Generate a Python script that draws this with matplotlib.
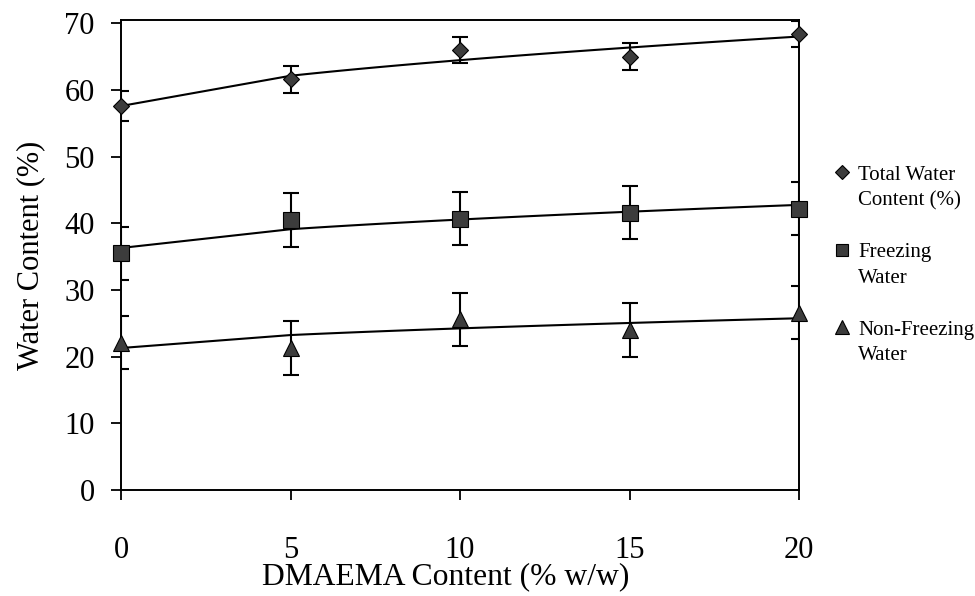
import numpy as np
import matplotlib
matplotlib.use("Agg")
import matplotlib.pyplot as plt
from matplotlib.lines import Line2D

# ---- data ----
dmaema = [0, 5, 10, 15, 20]
total_water = [57.6, 61.6, 66.0, 65.0, 68.4]
total_err = [2.2, 2.0, 2.0, 2.0, 2.0]
freezing_water = [35.5, 40.5, 40.7, 41.6, 42.2]
freezing_err = [4.0, 4.0, 4.0, 4.0, 4.0]
nonfreezing_water = [22.1, 21.3, 25.6, 24.0, 26.6]
nonfreezing_err = [4.0, 4.0, 4.0, 4.0, 4.0]
series_labels = [("Total Water", "Content (%)"), ("Freezing", "Water"), ("Non-Freezing", "Water")]
x_ticks = [0, 5, 10, 15, 20]
y_ticks = [0, 10, 20, 30, 40, 50, 60, 70]

plt.rcParams['font.family'] = ['Liberation Serif', 'DejaVu Serif']

fig = plt.figure(figsize=(9.75, 5.96), dpi=100)
ax = fig.add_axes([121/975, 1-490/596, (799-121)/975, (490-20)/596])

x = np.asarray(dmaema, dtype=float)
# trendline evaluated on a coarse first step (like a spreadsheet trendline), then finely
xs = np.concatenate([[0.0], np.linspace(5, 20, 80)])
POW = 0.6

def power_fit(xv, yv):
    A = np.vstack([np.ones_like(xv), xv**POW]).T
    coef, *_ = np.linalg.lstsq(A, np.asarray(yv, dtype=float), rcond=None)
    return coef[0] + coef[1]*xs**POW

face = '#3c3c3c'
series = [
    (total_water, total_err, 'D', 8.2),
    (freezing_water, freezing_err, 's', 11),
    (nonfreezing_water, nonfreezing_err, '^', 11.5),
]
handles = []
for yv, ev, mk, ms in series:
    ax.plot(xs, power_fit(x, yv), color='black', lw=1.5, zorder=2)
    ax.errorbar(x, yv, yerr=ev, fmt='none', ecolor='black', elinewidth=1.5,
                capsize=6, capthick=1.5, zorder=3)
    ax.plot(x, yv, linestyle='none', marker=mk, ms=ms, mfc=face, mec='black',
            mew=0.8, zorder=4, clip_on=False)
    handles.append(Line2D([], [], linestyle='none', marker=mk, ms=ms*0.85,
                          mfc=face, mec='black', mew=0.8))

ax.set_xlim(0, 20)
ax.set_ylim(0, 70.5)
ax.set_xticks(x_ticks)
ax.set_yticks(y_ticks)
ax.set_xticklabels([str(t) for t in x_ticks])
ax.set_yticklabels([str(t) for t in y_ticks])
ax.tick_params(axis='x', direction='out', length=7, width=1.3, pad=26, labelsize=22)
ax.tick_params(axis='y', direction='out', length=7, width=1.3, pad=12, labelsize=22)
for s in ax.spines.values():
    s.set_linewidth(1.4)

ax.set_xlabel("DMAEMA Content (% w/w)", fontsize=22.8)
ax.xaxis.set_label_coords((446-121)/678, (490-577)/470, transform=ax.transAxes)
ax.xaxis.label.set_va('center')
ax.set_ylabel("Water Content (%)", fontsize=22, labelpad=14)

blank = Line2D([], [], linestyle='none')
leg_handles = []
leg_labels = []
for i, (h, (l1, l2)) in enumerate(zip(handles, series_labels)):
    leg_handles += [h, blank]
    leg_labels += [l1, l2]
    if i < len(handles) - 1:
        leg_handles.append(blank)
        leg_labels.append(" ")

fig.legend(leg_handles, leg_labels, loc='upper left',
           bbox_to_anchor=(832/975, 1-165/596), frameon=False, fontsize=15,
           handlelength=1.0, handletextpad=0.25, labelspacing=0.30,
           borderpad=0, borderaxespad=0)

fig.savefig("out.png", dpi=100, facecolor='white')
